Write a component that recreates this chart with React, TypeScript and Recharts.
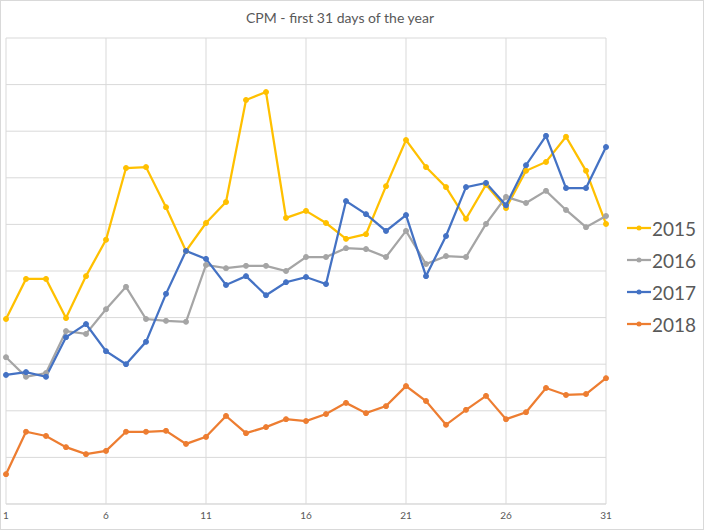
import { LineChart, Line, XAxis, YAxis, CartesianGrid } from "recharts";

const days = Array.from({ length: 31 }, (_, i) => i + 1);
const xTicks = [1, 6, 11, 16, 21, 26, 31];
const yTicks = [0, 1, 2, 3, 4, 5, 6, 7, 8, 9, 10];

const cpm2015 = [
  3.97, 4.83, 4.83, 3.99, 4.89, 5.67, 7.21, 7.23, 6.37, 5.43, 6.03, 6.48, 8.67, 8.84, 6.14, 6.29,
  6.03, 5.69, 5.79, 6.82, 7.81, 7.23, 6.8, 6.12, 6.85, 6.35, 7.15, 7.34, 7.88, 7.15, 6.01,
];
const cpm2016 = [
  3.15, 2.73, 2.81, 3.71, 3.65, 4.18, 4.66, 3.97, 3.93, 3.91, 5.13, 5.06, 5.11, 5.11, 5.0, 5.3,
  5.3, 5.49, 5.47, 5.3, 5.86, 5.15, 5.32, 5.3, 6.01, 6.59, 6.46, 6.72, 6.31, 5.94, 6.18,
];
const cpm2017 = [
  2.77, 2.83, 2.73, 3.58, 3.86, 3.28, 3.0, 3.48, 4.51, 5.43, 5.26, 4.7, 4.89, 4.48, 4.76, 4.87,
  4.72, 6.5, 6.22, 5.86, 6.2, 4.89, 5.75, 6.8, 6.89, 6.41, 7.27, 7.9, 6.78, 6.78, 7.66,
];
const cpm2018 = [
  0.64, 1.55, 1.46, 1.22, 1.07, 1.14, 1.55, 1.55, 1.57, 1.29, 1.44, 1.89, 1.52, 1.65, 1.82, 1.78,
  1.93, 2.17, 1.95, 2.1, 2.53, 2.21, 1.7, 2.02, 2.32, 1.82, 1.97, 2.49, 2.34, 2.36, 2.7,
];

const series = [
  { key: "2015", values: cpm2015, color: "#FFC000" },
  { key: "2016", values: cpm2016, color: "#A5A5A5" },
  { key: "2017", values: cpm2017, color: "#4472C4" },
  { key: "2018", values: cpm2018, color: "#ED7D31" },
];

const data = days.map((d, i) => {
  const row: Record<string, number> = { day: d };
  series.forEach((s) => {
    row[s.key] = s.values[i];
  });
  return row;
});

const font = "Lato, 'Open Sans', sans-serif";

function LegendBox() {
  return (
    <div style={{ position: "absolute", left: 626, top: 211, fontFamily: font }}>
      {series.map((s) => (
        <div key={s.key} style={{ display: "flex", alignItems: "center", height: 32 }}>
          <svg width={24} height={12}>
            <line x1={0} y1={6} x2={24} y2={6} stroke={s.color} strokeWidth={2.25} />
            <circle cx={12} cy={6} r={2.5} fill={s.color} />
          </svg>
          <span style={{ fontSize: 19, color: "#595959", marginLeft: 1 }}>{s.key}</span>
        </div>
      ))}
    </div>
  );
}

export default function App() {
  return (
    <div
      style={{
        position: "absolute",
        left: 0,
        top: 0,
        width: 704,
        height: 530,
        border: "1px solid #d9d9d9",
        boxSizing: "border-box",
        background: "#fff",
      }}
    >
      <div
        style={{
          position: "absolute",
          top: 8,
          left: 0,
          width: 678,
          textAlign: "center",
          fontFamily: font,
          fontSize: 14,
          color: "#595959",
        }}
      >
        CPM - first 31 days of the year
      </div>
      <div style={{ position: "absolute", left: -1, top: -1 }}>
        <LineChart width={706} height={530} data={data} margin={{ top: 38, right: 100, bottom: 6, left: 6 }}>
          <CartesianGrid stroke="#d9d9d9" strokeWidth={1} />
          <XAxis
            dataKey="day"
            type="number"
            domain={[1, 31]}
            ticks={xTicks}
            height={20}
            axisLine={{ stroke: "#d9d9d9" }}
            tickLine={false}
            tick={{ fontSize: 10, fill: "#595959", fontFamily: font }}
            interval={0}
          />
          <YAxis hide domain={[0, 10]} ticks={yTicks} />
          {series.map((s) => (
            <Line
              key={s.key}
              dataKey={s.key}
              stroke={s.color}
              strokeWidth={2.25}
              dot={{ r: 2.5, fill: s.color, stroke: s.color, strokeWidth: 1 }}
              isAnimationActive={false}
            />
          ))}
        </LineChart>
      </div>
      <LegendBox />
    </div>
  );
}
